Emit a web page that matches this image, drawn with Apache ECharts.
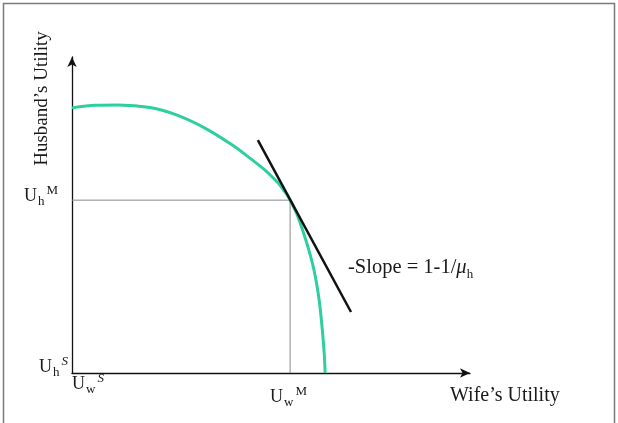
<!DOCTYPE html>
<html><head><meta charset="utf-8">
<script src="https://cdn.jsdelivr.net/npm/echarts@6/dist/echarts.min.js"></script>
<style>html,body{margin:0;padding:0;background:#fff}#c{width:618px;height:423px}</style>
</head><body><div id="c"></div>
<script>
// Utility possibility frontier (wife's utility, husband's utility)
const frontierW = [0, 5.8, 11.6, 19.6, 26.4, 33.4, 40.2, 44.7, 48.5, 51.8, 52.8, 53.8, 54.8, 55.8, 56.8, 59.0, 60.8, 62.1, 62.9, 63.4, 63.6];
const frontierH = [83.9, 84.7, 84.8, 84.0, 81.6, 77.5, 72.2, 68.0, 64.2, 60.1, 58.5, 56.8, 54.7, 52.2, 49.4, 41.1, 32.6, 23.1, 13.6, 5.7, 0];
// Tangent line at the marriage point
const tangentW = [46.7, 70.1];
const tangentH = [73.7, 19.3];
// Marriage point (U_w^M, U_h^M)
const marriageW = 54.8;
const marriageH = 54.7;
// Axis extents
const axisMaxW = 100;
const axisMaxH = 100;

const zip = (a, b) => a.map((v, i) => [v, b[i]]);
const FONT = '"Liberation Serif", "Times New Roman", serif';
const INK = '#1a1a1a';

function uLabel(x, y, sub, sup, supItalic) {
  return {
    type: 'text', x: x, y: y,
    style: {
      text: '{u|U}{b|' + sub + '}{p|' + sup + '}',
      align: 'left', textAlign: 'left', verticalAlign: 'middle', textVerticalAlign: 'middle',
      rich: {
        u: {fontFamily: FONT, fontSize: 18, lineHeight: 24, color: INK, fill: INK},
        b: {fontFamily: FONT, fontSize: 13, lineHeight: 13, verticalAlign: 'bottom', color: INK, fill: INK, padding: [0, 1, 0, 1]},
        p: {fontFamily: FONT, fontSize: 13, lineHeight: 16, verticalAlign: 'top', fontStyle: supItalic ? 'italic' : 'normal', color: INK, fill: INK, padding: [0, 0, 0, 1]}
      }
    }
  };
}

const chart = echarts.init(document.getElementById('c'), null, {renderer: 'canvas'});
chart.setOption({
  animation: false,
  backgroundColor: '#fff',
  grid: {left: 72, right: 148, top: 57, bottom: 50},
  xAxis: {
    type: 'value', min: 0, max: axisMaxW,
    axisLine: {show: true, symbol: ['none', 'arrow'], symbolSize: [7, 10], lineStyle: {color: '#111', width: 1.3}},
    axisTick: {show: false}, axisLabel: {show: false}, splitLine: {show: false}
  },
  yAxis: {
    type: 'value', min: 0, max: axisMaxH,
    axisLine: {show: true, symbol: ['none', 'arrow'], symbolSize: [7, 10], lineStyle: {color: '#111', width: 1.3}},
    axisTick: {show: false}, axisLabel: {show: false}, splitLine: {show: false}
  },
  series: [
    {type: 'line', data: [[0, marriageH], [marriageW, marriageH]], showSymbol: false,
     lineStyle: {color: '#8a8a8a', width: 1}, z: 1},
    {type: 'line', data: [[marriageW, 0], [marriageW, marriageH]], showSymbol: false,
     lineStyle: {color: '#8a8a8a', width: 1}, z: 1},
    {type: 'line', data: zip(frontierW, frontierH), smooth: 0.3, showSymbol: false,
     lineStyle: {color: '#2dcf9f', width: 3}, z: 2},
    {type: 'line', data: zip(tangentW, tangentH), showSymbol: false,
     lineStyle: {color: '#111', width: 2.5}, z: 3}
  ],
  graphic: [
    {type: 'rect', shape: {x: 3.5, y: 3.5, width: 611, height: 440}, style: {fill: 'none', stroke: '#7a7a7a', lineWidth: 1.5}, silent: true},
    {type: 'text', x: 42, y: 98.5, rotation: Math.PI / 2,
     style: {text: 'Husband’s Utility', font: '19px ' + FONT, fill: INK,
             align: 'center', textAlign: 'center', verticalAlign: 'middle', textVerticalAlign: 'middle'}},
    {type: 'text', x: 450, y: 395.5,
     style: {text: 'Wife’s Utility', font: '20px ' + FONT, fill: INK,
             align: 'left', textAlign: 'left', verticalAlign: 'middle', textVerticalAlign: 'middle'}},
    {type: 'text', x: 348, y: 268,
     style: {text: '{a|-Slope = 1-1/}{m|μ}{s|h}',
             align: 'left', textAlign: 'left', verticalAlign: 'middle', textVerticalAlign: 'middle',
             rich: {
               a: {fontFamily: FONT, fontSize: 20.5, lineHeight: 26, color: INK, fill: INK},
               m: {fontFamily: FONT, fontSize: 20.5, lineHeight: 26, fontStyle: 'italic', color: INK, fill: INK},
               s: {fontFamily: FONT, fontSize: 13, lineHeight: 13, verticalAlign: 'bottom', color: INK, fill: INK}
             }}},
    uLabel(24, 196.5, 'h', 'M', false),
    uLabel(39, 367.5, 'h', 'S', true),
    uLabel(72, 384, 'w', 'S', true),
    uLabel(270, 397, 'w', 'M', false)
  ]
});
</script>
</body></html>
